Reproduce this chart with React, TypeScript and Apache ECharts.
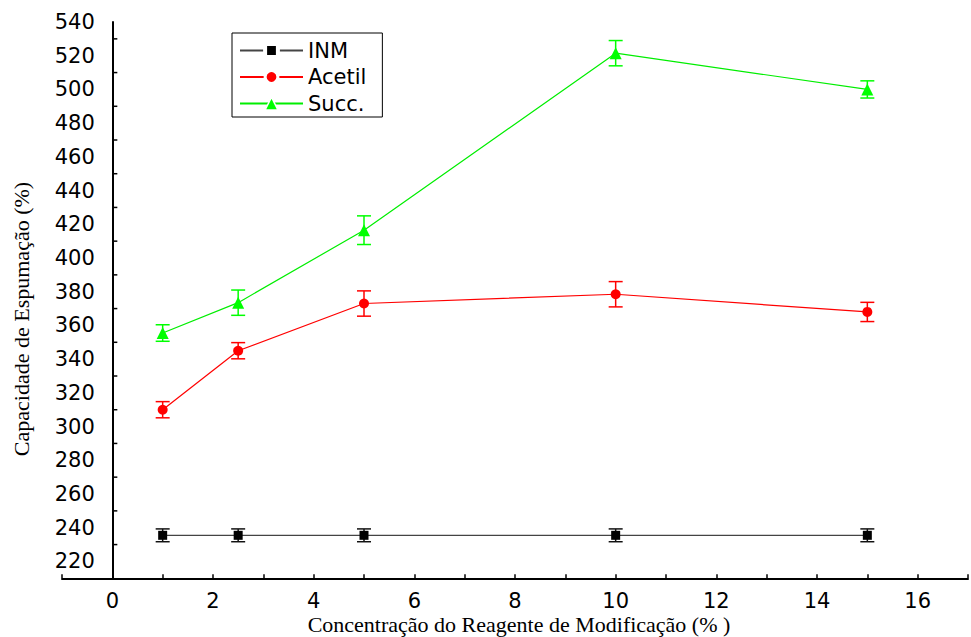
import React, { useEffect, useRef } from "react";
import * as echarts from "echarts";

const xValues = [1, 2.5, 5, 10, 15];
const inmValues = [235.5, 235.5, 235.5, 235.5, 235.5];
const inmErrors = [3.8, 3.8, 3.8, 3.8, 3.8];
const acetilValues = [310, 345, 373, 378.5, 368];
const acetilErrors = [4.8, 4.8, 7.5, 7.5, 5.7];
const succValues = [355.5, 373.5, 416.5, 521.5, 500];
const succErrors = [4.9, 7.5, 8.5, 7.5, 5.1];
const yMinorTicks = [230, 250, 270, 290, 310, 330, 350, 370, 390, 410, 430, 450, 470, 490, 510, 530];

const SANS = "DejaVu Sans";

function pairs(vals: number[]) {
  return xValues.map((x, i) => [x, vals[i]]);
}
function errData(vals: number[], errs: number[]) {
  return xValues.map((x, i) => [x, vals[i], errs[i]]);
}

function errorBarSeries(name: string, vals: number[], errs: number[], color: string) {
  return {
    type: "custom",
    name: name + "-err",
    data: errData(vals, errs),
    encode: { x: 0, y: 1 },
    z: 3,
    silent: true,
    renderItem: (params: any, api: any) => {
      const x = api.value(0);
      const y = api.value(1);
      const e = api.value(2);
      const top = api.coord([x, y + e]);
      const bot = api.coord([x, y - e]);
      const h = 7;
      const style = { stroke: color, lineWidth: 1.5 };
      return {
        type: "group",
        children: [
          { type: "line", shape: { x1: top[0], y1: top[1], x2: bot[0], y2: bot[1] }, style },
          { type: "line", shape: { x1: top[0] - h, y1: top[1], x2: top[0] + h, y2: top[1] }, style },
          { type: "line", shape: { x1: bot[0] - h, y1: bot[1], x2: bot[0] + h, y2: bot[1] }, style },
        ],
      };
    },
  };
}

export default function App() {
  const ref = useRef<HTMLDivElement>(null);
  useEffect(() => {
    if (!ref.current) return;
    const chart = echarts.init(ref.current, null, { renderer: "svg" });
    chart.setOption({
      animation: false,
      backgroundColor: "#fff",
      grid: { left: 62, top: 22, width: 915, height: 556.3, containLabel: false },
      xAxis: {
        type: "value",
        min: -1,
        max: 17,
        interval: 1,
        axisLine: { onZero: false, lineStyle: { color: "#000", width: 2 } },
        axisTick: { show: true, inside: true, length: 4, lineStyle: { color: "#000", width: 1.5 } },
        axisLabel: {
          margin: 12,
          color: "#000",
          fontFamily: SANS,
          fontSize: 21,
          formatter: (v: number) => (v >= 0 && v <= 16 && v % 2 === 0 ? String(v) : ""),
        },
        splitLine: { show: false },
      },
      yAxis: {
        type: "value",
        min: 210,
        max: 540,
        interval: 10,
        offset: -50.8,
        axisLine: { show: true, onZero: false, lineStyle: { color: "#000", width: 2 } },
        axisTick: { show: false },
        axisLabel: {
          margin: 18,
          color: "#000",
          fontFamily: SANS,
          fontSize: 21,
          formatter: (v: number) => (v >= 220 && v % 20 === 0 ? String(v) : ""),
        },
        splitLine: { show: false },
      },
      legend: {
        orient: "vertical",
        left: 232,
        top: 33,
        data: [
          { name: "INM", itemStyle: { borderColor: "#fff", borderWidth: 4 } },
          { name: "Acetil", itemStyle: { borderColor: "#fff", borderWidth: 3 } },
          { name: "Succ.", itemStyle: { borderColor: "#fff", borderWidth: 1.5 } },
        ],
        backgroundColor: "#fff",
        borderColor: "#000",
        borderWidth: 1,
        padding: [7, 16, 3, 7],
        itemWidth: 63,
        itemHeight: 16,
        itemGap: 5.5,
        selectedMode: false,
        textStyle: { color: "#000", fontFamily: SANS, fontSize: 21 },
      },
      graphic: [
        {
          type: "text",
          x: 519,
          y: 624,
          style: {
            text: "Concentração do Reagente de Modificação (% )",
            font: "22px 'Liberation Serif'",
            fill: "#000",
            align: "center",
            verticalAlign: "middle",
          },
        },
        {
          type: "text",
          x: 21,
          y: 319,
          rotation: Math.PI / 2,
          style: {
            text: "Capacidade de Espumação (%)",
            font: "22px 'Liberation Serif'",
            fill: "#000",
            align: "center",
            verticalAlign: "middle",
          },
        },
      ],
      series: [
        {
          type: "custom",
          name: "yticks",
          silent: true,
          data: yMinorTicks.map((v) => [0, v]),
          encode: { x: 0, y: 1 },
          renderItem: (params: any, api: any) => {
            const p = api.coord([api.value(0), api.value(1)]);
            return {
              type: "line",
              shape: { x1: p[0], y1: p[1], x2: p[0] + 5, y2: p[1] },
              style: { stroke: "#000", lineWidth: 1.5 },
            };
          },
        },
        errorBarSeries("INM", inmValues, inmErrors, "#111"),
        errorBarSeries("Acetil", acetilValues, acetilErrors, "#ff0000"),
        errorBarSeries("Succ.", succValues, succErrors, "#00ff00"),
        {
          type: "line",
          name: "INM",
          data: pairs(inmValues),
          symbol: "rect",
          symbolSize: 9,
          z: 4,
          lineStyle: { color: "#444", width: 1.2 },
          itemStyle: { color: "#000" },
        },
        {
          type: "line",
          name: "Acetil",
          data: pairs(acetilValues),
          symbol: "circle",
          symbolSize: 10,
          z: 4,
          lineStyle: { color: "#ff0000", width: 1.2 },
          itemStyle: { color: "#ff0000" },
        },
        {
          type: "line",
          name: "Succ.",
          data: pairs(succValues),
          symbol: "triangle",
          symbolSize: 12,
          z: 4,
          lineStyle: { color: "#00ee00", width: 1.2 },
          itemStyle: { color: "#00ff00" },
        },
      ],
    });
    return () => chart.dispose();
  }, []);
  return (
    <div
      ref={ref}
      style={{ position: "absolute", left: 0, top: 0, width: 971, height: 637 }}
    />
  );
}
